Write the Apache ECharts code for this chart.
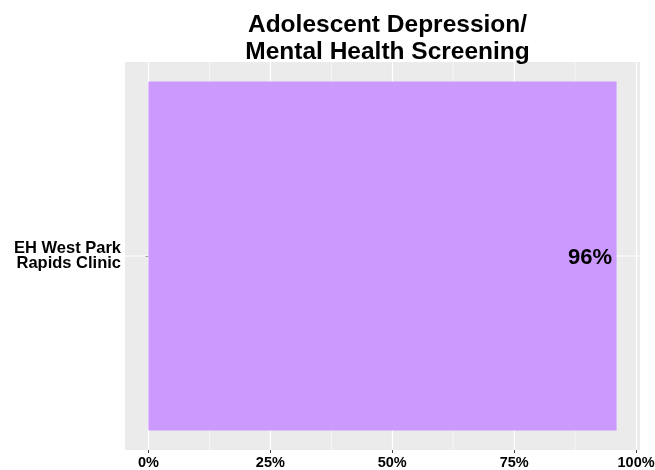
<!DOCTYPE html>
<html><head><meta charset="utf-8">
<script src="https://cdn.jsdelivr.net/npm/echarts@6/dist/echarts.min.js"></script>
<style>html,body{margin:0;padding:0;background:#fff}#c{width:655px;height:470px}</style>
</head><body><div id="c"></div>
<script>
var titleText = 'Adolescent Depression/\nMental Health Screening';
var categories = ['EH West Park\nRapids Clinic'];
var values = [96];
var xTicks = [0, 25, 50, 75, 100];
var xMinorTicks = [12.5, 37.5, 62.5, 87.5];

var chart = echarts.init(document.getElementById('c'), null, {renderer: 'canvas'});
var font = 'Liberation Sans, Arial, sans-serif';

chart.setOption({
  animation: false,
  backgroundColor: '#ffffff',
  title: {
    text: titleText, left: 382.5, top: 7, textAlign: 'center',
    textStyle: {fontFamily: font, fontWeight: 'bold', fontSize: 24.5, lineHeight: 27, color: '#000'}
  },
  grid: {left: 125, right: 15, top: 62, bottom: 20, backgroundColor: '#EBEBEB', show: true, borderWidth: 0,
         containLabel: false, outerBoundsMode: 'none'},
  xAxis: {
    type: 'value', min: -4.8, max: 100.8,
    axisLine: {show: false},
    axisTick: {show: true, customValues: xTicks, length: 3, lineStyle: {color: '#444', width: 1}},
    axisLabel: {
      customValues: xTicks,
      formatter: function (v) { return v + '%'; },
      fontFamily: font, fontWeight: 'bold', fontSize: 14.5, color: '#000', margin: 5
    },
    splitLine: {show: true, lineStyle: {color: '#ffffff', width: 1.2}}
  },
  yAxis: {
    type: 'category', data: categories,
    axisLine: {show: false},
    axisTick: {show: true, alignWithLabel: true, length: 3, lineStyle: {color: '#444'}},
    axisLabel: {fontFamily: font, fontWeight: 'bold', fontSize: 16.5, lineHeight: 15, color: '#000', margin: 4, align: 'right'},
    splitLine: {show: false}
  },
  series: [{
    type: 'custom', z: 1, silent: true,
    data: xMinorTicks.map(function (v) { return [v, 0]; }),
    renderItem: function (params, api) {
      var cs = params.coordSys;
      var x = api.coord([api.value(0), 0])[0];
      return {type: 'line', shape: {x1: x, y1: cs.y, x2: x, y2: cs.y + cs.height},
              style: {stroke: '#ffffff', lineWidth: 0.6}};
    }
  }, {
    type: 'custom', z: 1, silent: true,
    data: categories.map(function (c, i) { return [0, i]; }),
    renderItem: function (params, api) {
      var cs = params.coordSys;
      var y = api.coord([0, api.value(1)])[1];
      return {type: 'line', shape: {x1: cs.x, y1: y, x2: cs.x + cs.width, y2: y},
              style: {stroke: '#ffffff', lineWidth: 1.2}};
    }
  }, {
    type: 'bar', data: values, z: 2,
    barCategoryGap: '10%',
    itemStyle: {color: '#CC99FF'},
    label: {
      show: true, position: 'insideRight', distance: 4.5, offset: [0, 2],
      formatter: function (p) { return p.value + '%'; },
      fontFamily: font, fontWeight: 'bold', fontSize: 22, color: '#000'
    }
  }]
});
</script></body></html>
